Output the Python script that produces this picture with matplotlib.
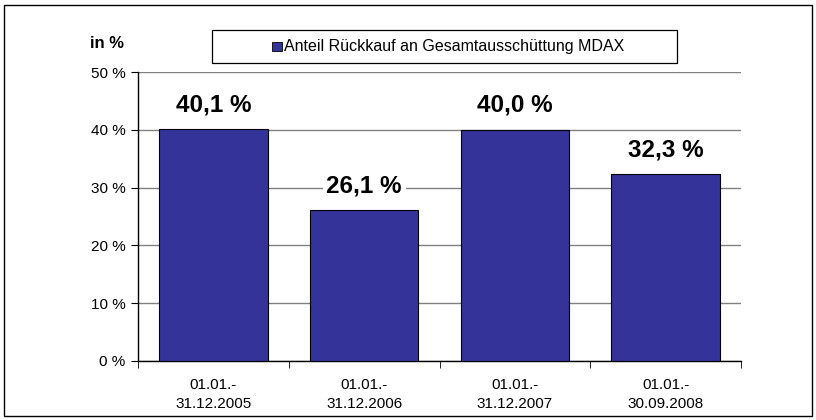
import matplotlib.pyplot as plt
from matplotlib.patches import Rectangle

plt.rcParams['font.family'] = ['Liberation Sans', 'DejaVu Sans']

# Daten
kategorien = ['01.01.-\n31.12.2005', '01.01.-\n31.12.2006', '01.01.-\n31.12.2007', '01.01.-\n30.09.2008']
anteil = [40.1, 26.1, 40.0, 32.3]
beschriftung = ['40,1 %', '26,1 %', '40,0 %', '32,3 %']
y_ticks = [0, 10, 20, 30, 40, 50]
legende = 'Anteil Rückkauf an Gesamtausschüttung MDAX'

W, H = 816, 420
farbe = '#333399'

fig = plt.figure(figsize=(W / 100, H / 100), dpi=100)
ax = fig.add_axes([138 / W, 1 - 361 / H, (741 - 138) / W, (361 - 72) / H])

x = list(range(len(kategorien)))
ax.bar(x, anteil, width=0.72, color=farbe, edgecolor='black', linewidth=0.8, zorder=3)

ax.set_xlim(-0.5, len(kategorien) - 0.5)
ax.set_ylim(0, 50)
ax.set_yticks(y_ticks)
ax.set_yticklabels([f'{v} %' for v in y_ticks], fontsize=11)
ax.yaxis.grid(True, color='#808080', linewidth=1.0, zorder=0)

ax.set_xticks(x)
ax.set_xticklabels(kategorien, fontsize=11, linespacing=1.45)
ax.tick_params(axis='x', length=0, pad=12)
ax.set_xticks([i - 0.5 for i in range(len(kategorien) + 1)], minor=True)
ax.tick_params(axis='x', which='minor', length=5, direction='out')
ax.tick_params(axis='y', length=5, direction='out', pad=4)

for s in ['top', 'right']:
    ax.spines[s].set_visible(False)
ax.spines['left'].set_linewidth(1.0)
ax.spines['bottom'].set_linewidth(1.0)

for xi, v, t in zip(x, anteil, beschriftung):
    ax.annotate(t, (xi, v), xytext=(0, 17.5), textcoords='offset points', ha='center', va='center',
                fontsize=17.5, fontweight='bold', zorder=4,
                bbox=dict(boxstyle='square,pad=0.15', facecolor='white', edgecolor='none'))

fig.text(90 / W, 1 - 44 / H, 'in %', fontsize=12, fontweight='bold', ha='left', va='center')

# Legende als Kasten
fig.patches.append(Rectangle((212 / W, 1 - 63 / H), (677 - 212) / W, (63 - 30) / H,
                             transform=fig.transFigure, facecolor='white', edgecolor='black', linewidth=0.9))
fig.patches.append(Rectangle((272 / W, 1 - 51 / H), 10 / W, 9 / H,
                             transform=fig.transFigure, facecolor=farbe, edgecolor='black', linewidth=0.6))
fig.text(284 / W, 1 - 46.5 / H, legende, fontsize=11.5, ha='left', va='center')

fig.patches.append(Rectangle((4 / W, 4 / H), 808 / W, 411 / H, transform=fig.transFigure,
                             fill=False, edgecolor='black', linewidth=1.0))

fig.savefig('out.png', dpi=100)
